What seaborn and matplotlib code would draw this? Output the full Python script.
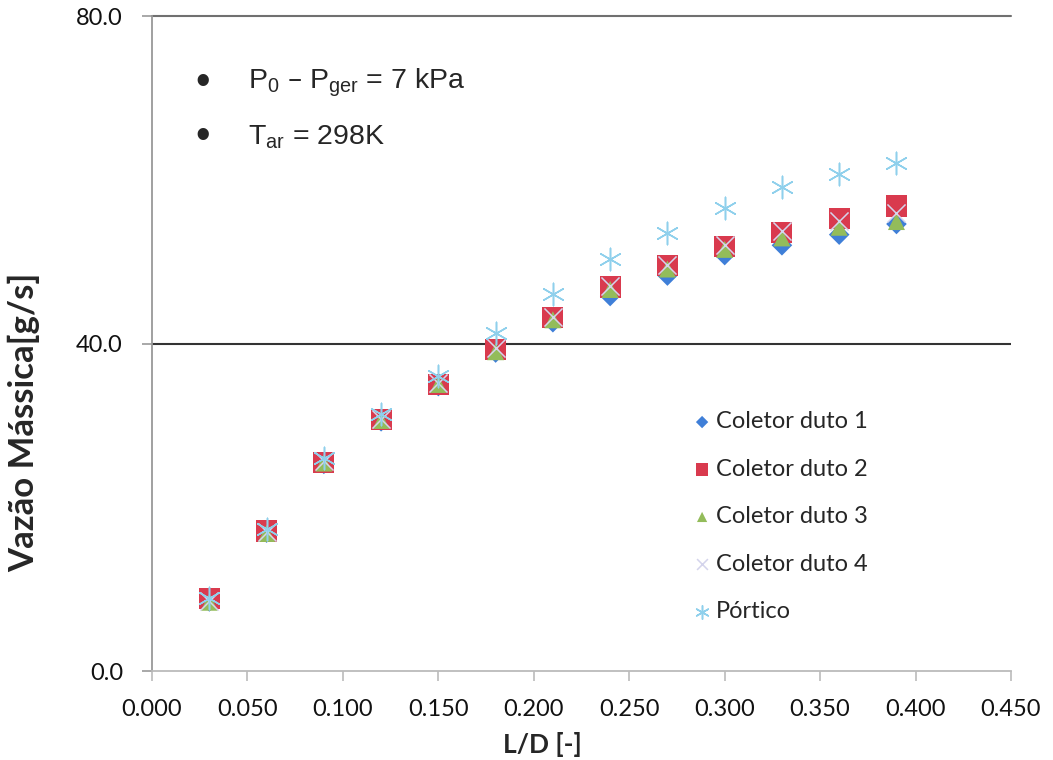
import matplotlib.pyplot as plt
import seaborn as sns
import pandas as pd

ld = [0.03, 0.06, 0.09, 0.12, 0.15, 0.18, 0.21, 0.24, 0.27, 0.30, 0.33, 0.36, 0.39]
duto1 = [8.5, 16.9, 25.3, 30.5, 34.8, 38.9, 42.6, 45.8, 48.3, 50.8, 52.0, 53.3, 54.6]
duto2 = [8.9, 17.1, 25.5, 30.7, 35.0, 39.3, 43.2, 46.9, 49.5, 51.8, 53.6, 55.3, 56.8]
duto3 = [8.4, 16.8, 25.4, 30.6, 35.0, 39.0, 42.9, 46.6, 49.1, 51.5, 52.9, 54.2, 54.9]
duto4 = [8.6, 17.0, 25.6, 30.8, 35.2, 39.4, 43.3, 47.0, 49.6, 52.0, 53.7, 55.0, 56.0]
portico = [8.9, 17.3, 26.0, 31.4, 36.0, 41.3, 46.0, 50.3, 53.5, 56.6, 59.1, 60.7, 62.0]

series_names = ['Coletor duto 1', 'Coletor duto 2', 'Coletor duto 3', 'Coletor duto 4', 'Pórtico']
series_vals = [duto1, duto2, duto3, duto4, portico]
markers = ['D', 's', '^', 'x', (6, 2, 0)]
colors = ['#3F7FD8', '#D93A4E', '#93BC5A', '#D4D4EC', '#8FD0EC']
sizes = [110, 230, 150, 170, 260]

sns.set_style('white')
plt.rcParams['font.family'] = ['Lato', 'DejaVu Sans']
plt.rcParams['mathtext.default'] = 'regular'

fig = plt.figure(figsize=(10.53, 7.6), dpi=100)
ax = fig.add_axes([0.1444, 0.1171, 0.8157, 0.8618])

for name, vals, m, c, s in zip(series_names, series_vals, markers, colors, sizes):
    df = pd.DataFrame({'L/D': ld, 'vazao': vals})
    if m == 'x' or isinstance(m, tuple):
        sns.scatterplot(data=df, x='L/D', y='vazao', ax=ax, marker=m, color=c,
                        s=s, linewidth=1.1, label=name, zorder=3)
    else:
        sns.scatterplot(data=df, x='L/D', y='vazao', ax=ax, marker=m, color=c,
                        s=s, edgecolor='none', label=name, zorder=3)

ax.set_xlim(0, 0.45)
ax.set_ylim(0, 80)
ax.set_xticks([0.0, 0.05, 0.1, 0.15, 0.2, 0.25, 0.3, 0.35, 0.4, 0.45])
ax.set_xticklabels([f'{v:.3f}' for v in ax.get_xticks()])
ax.set_yticks([0, 40, 80])
ax.set_yticklabels(['0.0', '40.0', '80.0'])
ax.tick_params(axis='both', left=True, bottom=True, labelsize=17, labelcolor='#111111',
               length=7, width=1.2)
ax.tick_params(axis='x', color='#BBBBBB', pad=13)
ax.tick_params(axis='y', color='#999999', pad=14)

ax.axhline(40, color='#333333', lw=1.5, zorder=1)
ax.axhline(80, color='#707070', lw=1.5, zorder=1, clip_on=False)

for side in ['top', 'right']:
    ax.spines[side].set_visible(False)
ax.spines['left'].set_color('#999999')
ax.spines['left'].set_linewidth(1.3)
ax.spines['bottom'].set_color('#BBBBBB')
ax.spines['bottom'].set_linewidth(1.3)

ax.set_xlabel('L/D [-]', fontsize=19, fontweight='bold')
ax.xaxis.set_label_coords(0.454, -0.093)
ax.set_ylabel('Vazão Mássica[g/s]', fontsize=25, fontweight='bold')
ax.yaxis.set_label_coords(-0.13, 0.38)

leg = ax.legend(loc='upper left', bbox_to_anchor=(0.617, 0.411), frameon=False,
                fontsize=17, handletextpad=0.15, labelspacing=1.12,
                handlelength=0.9, markerscale=0.6, borderaxespad=0)

ax.text(0.059, 0.898, '•', transform=ax.transAxes, fontsize=30, family='Liberation Sans',
        va='center', ha='center')
ax.text(0.112, 0.898, 'P$_0$ – P$_{ger}$ = 7 kPa', transform=ax.transAxes, fontsize=20.5,
        family='Liberation Sans', va='center', ha='left')
ax.text(0.059, 0.815, '•', transform=ax.transAxes, fontsize=30, family='Liberation Sans',
        va='center', ha='center')
ax.text(0.112, 0.815, 'T$_{ar}$ = 298K', transform=ax.transAxes, fontsize=20.5,
        family='Liberation Sans', va='center', ha='left')

fig.savefig('out.png', dpi=100, facecolor='white')
